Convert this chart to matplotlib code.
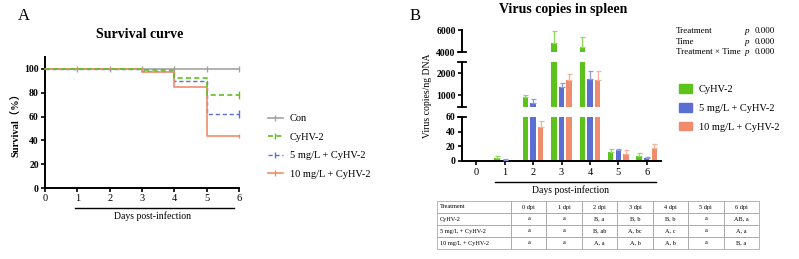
import numpy as np
import matplotlib
matplotlib.use("Agg")
import matplotlib.pyplot as plt
from matplotlib.lines import Line2D
from matplotlib.patches import Patch

plt.rcParams['font.family'] = ['Liberation Serif', 'Noto Sans CJK SC', 'DejaVu Sans']

# ---- data: survival (%) ----
days = [0, 1, 2, 3, 4, 5, 6]
surv_con = [100, 100, 100, 100, 100, 100, 100]
surv_cyhv = [100, 100, 100, 99, 92, 78, 78]
surv_5mg = [100, 100, 100, 98, 90, 62, 62]
surv_10mg = [100, 100, 100, 97, 85, 44, 44]
surv_labels = ["Con", "CyHV-2", "5 mg/L + CyHV-2", "10 mg/L + CyHV-2"]

# ---- data: virus copies / ng DNA ----
vc_cyhv = [0, 4.5, 910, 4800, 4500, 12, 7]
vc_cyhv_err = [0, 2.5, 90, 1100, 900, 4, 3.5]
vc_5mg = [0, 1.5, 620, 1350, 1740, 15, 4.5]
vc_5mg_err = [0, 1, 180, 180, 340, 2, 1]
vc_10mg = [0, 0.5, 46, 1680, 1680, 9.5, 17.7]
vc_10mg_err = [0, 0, 8, 270, 400, 5.5, 5]
bar_labels = ["CyHV-2", "5 mg/L + CyHV-2", "10 mg/L + CyHV-2"]

stats_rows = ["Treatment", "Time", "Treatment \u00d7 Time"]
stats_p = ["0.000", "0.000", "0.000"]

table_cols = ["Treatment", "0 dpi", "1 dpi", "2 dpi", "3 dpi", "4 dpi", "5 dpi", "6 dpi"]
table_cyhv = ["CyHV-2", "a", "a", "B, a", "B, b", "B, b", "a", "AB, a"]
table_5mg = ["5 mg/L + CyHV-2", "a", "a", "B, ab", "A, bc", "A, c", "a", "A, a"]
table_10mg = ["10 mg/L + CyHV-2", "a", "a", "A, a", "A, b", "A, b", "a", "B, a"]

W, H = 799, 259
col_con = "#a3a3a3"
col_green = "#5cc21c"
col_blue = "#5b6fd2"
col_orange = "#f08c6c"
err_cols = ["#93dd5e", "#8d9be0", "#f5b49e"]


def box(x0, y0, x1, y1):
    # pixel box (top-left origin) -> figure fraction rect
    return [x0 / W, 1 - y1 / H, (x1 - x0) / W, (y1 - y0) / H]


fig = plt.figure(figsize=(W / 100, H / 100), dpi=100)

# ================= panel A =================
fig.text(24 / W, 1 - 16 / H, "A", fontsize=12, ha='center', va='center')
fig.text(140 / W, 1 - 35 / H, "Survival curve", fontsize=10, fontweight='bold',
         ha='center', va='center')

axA = fig.add_axes(box(45, 57, 239, 188))
axA.step(days, surv_con, where='post', color=col_con, lw=1.2, clip_on=False,
         marker='|', markevery=list(range(1, 7)), ms=4, zorder=2)
axA.step(days, surv_cyhv, where='post', color=col_green, lw=1.2, ls=(0, (3, 2)),
         clip_on=False, marker='|', markevery=[6], ms=6, zorder=4)
axA.step(days, surv_5mg, where='post', color=col_blue, lw=1.0, ls=(0, (3, 2)),
         clip_on=False, marker='|', markevery=[6], ms=6, zorder=3)
axA.step(days, surv_10mg, where='post', color=col_orange, lw=1.2, clip_on=False,
         marker='|', markevery=[6], ms=3, zorder=3)
axA.set_xlim(0, 6)
axA.set_ylim(0, 110)
axA.set_xticks(days)
axA.set_yticks([0, 20, 40, 60, 80, 100])
for s in ['top', 'right']:
    axA.spines[s].set_visible(False)
for s in ['left', 'bottom']:
    axA.spines[s].set_linewidth(1.4)
axA.tick_params(direction='out', length=3, width=1.2, pad=1.5)
axA.tick_params(axis='x', labelsize=7.5)
axA.tick_params(axis='y', labelsize=7)
for lab in axA.get_yticklabels():
    lab.set_fontweight('bold')
axA.set_ylabel("Survival\uff08%\uff09", fontsize=7.5, fontweight='bold', labelpad=2)

fig.add_artist(Line2D([75 / W, 234 / W], [1 - 208 / H, 1 - 208 / H], color='black', lw=1.0))
fig.text(152 / W, 1 - 216 / H, "Days post-infection", fontsize=7, ha='center', va='center')

handlesA = [
    Line2D([], [], color=col_con, lw=1.2, marker='|', ms=5),
    Line2D([], [], color=col_green, lw=1.2, ls=(0, (3, 2)), marker='|', ms=5),
    Line2D([], [], color=col_blue, lw=1.0, ls=(0, (3, 2)), marker='|', ms=5),
    Line2D([], [], color=col_orange, lw=1.2, marker='|', ms=5),
]
fig.legend(handlesA, surv_labels, loc='upper left', bbox_to_anchor=(268 / W, 1 - 114 / H),
           frameon=False, fontsize=7.5, borderpad=0, borderaxespad=0,
           handlelength=1.4, handletextpad=0.7, labelspacing=0.88)

# ================= panel B =================
fig.text(415 / W, 1 - 16 / H, "B", fontsize=12, ha='center', va='center')
fig.text(563 / W, 1 - 9 / H, "Virus copies in spleen", fontsize=10, fontweight='bold',
         ha='center', va='center')

axT = fig.add_axes(box(462, 30, 661, 52))
axM = fig.add_axes(box(462, 62, 661, 107))
axB = fig.add_axes(box(462, 117, 661, 161))

x = np.arange(len(days))
bw = 0.19
off = 0.27
series = [(vc_cyhv, vc_cyhv_err, col_green), (vc_5mg, vc_5mg_err, col_blue),
          (vc_10mg, vc_10mg_err, col_orange)]
for ax in [axT, axM, axB]:
    for i, (vals, errs, c) in enumerate(series):
        xs = x + (i - 1) * off
        ax.bar(xs, vals, width=bw, color=c, zorder=2)
        has = np.array(errs) > 0
        ax.errorbar(xs[has], np.array(vals)[has],
                    yerr=[np.zeros(has.sum()), np.array(errs)[has]], fmt='none',
                    ecolor=err_cols[i], elinewidth=0.9, capsize=1.8, capthick=0.9, zorder=3)
    ax.set_xlim(-0.5, 6.5)
    for s in ['top', 'right']:
        ax.spines[s].set_visible(False)
    ax.spines['left'].set_linewidth(1.4)
    ax.spines['bottom'].set_linewidth(1.4)
    ax.tick_params(axis='y', direction='out', length=3, width=1.2, labelsize=7, pad=1.5)
    ax.patch.set_alpha(0)

axT.set_ylim(4000, 6000)
axT.set_yticks([4000, 6000])
axM.set_ylim(455, 2500)
axM.set_yticks([1000, 2000])
axB.set_ylim(0, 60)
axB.set_yticks([0, 20, 40, 60])
for ax in [axT, axM]:
    ax.spines['bottom'].set_visible(False)
    ax.set_xticks([])
axB.set_xticks(x)
axB.set_xticklabels([str(d) for d in days])
axB.tick_params(axis='x', direction='out', length=3, width=1.2, labelsize=7.5, pad=2)
for ax in [axT, axM, axB]:
    for lab in ax.get_yticklabels():
        lab.set_fontweight('bold')

# break marks on the y axis
for ax, ends in [(axT, [0]), (axM, [0, 1]), (axB, [1])]:
    for e in ends:
        ax.plot([-0.022, 0.022], [e, e], transform=ax.transAxes, color='black',
                lw=1.3, clip_on=False)

fig.text(428 / W, 1 - 96 / H, "Virus copies/ng DNA", fontsize=7, rotation=90,
         ha='center', va='center')

fig.add_artist(Line2D([495 / W, 656 / W], [1 - 182 / H, 1 - 182 / H], color='black', lw=1.0))
fig.text(570 / W, 1 - 190 / H, "Days post-infection", fontsize=7, ha='center', va='center')

handlesB = [Patch(color=col_green), Patch(color=col_blue), Patch(color=col_orange)]
fig.legend(handlesB, bar_labels, loc='upper left', bbox_to_anchor=(679 / W, 1 - 84 / H),
           frameon=False, fontsize=7.5, borderpad=0, borderaxespad=0,
           handlelength=1.2, handleheight=0.9, handletextpad=0.7, labelspacing=0.86)

# stats block
for r, (name, pv) in enumerate(zip(stats_rows, stats_p)):
    yy = 1 - (31 + r * 10.5) / H
    fig.text(676 / W, yy, name, fontsize=6.5, ha='left', va='center')
    fig.text(747 / W, yy, "p", fontsize=6.5, style='italic', ha='center', va='center')
    fig.text(755 / W, yy, pv, fontsize=6.5, ha='left', va='center')

# letters table
axTab = fig.add_axes(box(437, 201, 759, 249))
axTab.axis('off')
cells = [table_cyhv, table_5mg, table_10mg]
tab = axTab.table(cellText=cells, colLabels=table_cols, bbox=[0, 0, 1, 1],
                  colWidths=[74] + [35.4] * 7, cellLoc='center')
tab.auto_set_font_size(False)
tab.set_fontsize(4.5)
for (r, c), cell in tab.get_celld().items():
    cell.set_edgecolor('#9a9a9a')
    cell.set_linewidth(0.5)
    if c == 0:
        cell.set_text_props(ha='left')
        cell.PAD = 0.04

fig.savefig("out.png", dpi=100)
